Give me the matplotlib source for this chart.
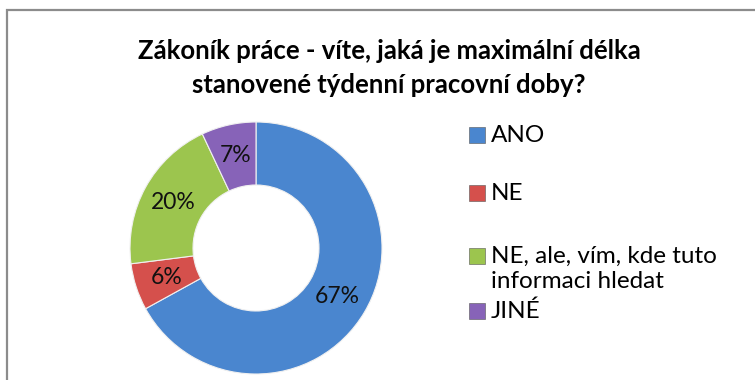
import matplotlib.pyplot as plt
from matplotlib.patches import Rectangle

plt.rcParams['font.family'] = ['Lato', 'DejaVu Sans']

title = 'Zákoník práce - víte, jaká je maximální délka\nstanovené týdenní pracovní doby?'
labels = ['ANO', 'NE', 'NE, ale, vím, kde tuto\ninformaci hledat', 'JINÉ']
values = [67, 6, 20, 7]
colors = ['#4A86CF', '#D5504C', '#9CC54E', '#8763B8']

W, H = 755, 380
fig = plt.figure(figsize=(W / 100, H / 100), dpi=100)

# chart frame (runs off the right and bottom edges)
fig.patches.append(Rectangle((7 / W, -0.1), 1.2, 1 - 10 / H + 0.1,
                             transform=fig.transFigure, fill=False,
                             edgecolor='#8c8c8c', linewidth=1.6))

fig.text(389 / W, 1 - 68 / H, title, ha='center', va='center', fontsize=18.5,
         fontweight='bold', linespacing=1.5)

# donut
ax = fig.add_axes([(256 - 126) / W, (H - 248 - 126) / H, 252 / W, 252 / H])
wedges, texts, autotexts = ax.pie(values, colors=colors, startangle=90,
                                  counterclock=False, autopct='%.0f%%',
                                  pctdistance=0.75, radius=1.0,
                                  wedgeprops=dict(width=0.5, edgecolor='#f0f0f0',
                                                  linewidth=0.8))
for t in autotexts:
    t.set_fontsize(16.5)
    t.set_color('#111111')
ax.set_xlim(-1, 1)
ax.set_ylim(-1, 1)
ax.set_aspect('equal')
ax.axis('off')

# legend drawn by hand
leg_y = [135, 193, 256, 311]
for lab, col, y in zip(labels, colors, leg_y):
    fig.patches.append(Rectangle((469 / W, 1 - (y + 8) / H), 16 / W, 16 / H,
                                 transform=fig.transFigure, facecolor=col,
                                 edgecolor='#555555', linewidth=0.4))
    fig.text(491 / W, 1 - (y - 10) / H, lab, ha='left', va='top',
             fontsize=17.5, linespacing=1.22)

fig.savefig('out.png', dpi=100)
